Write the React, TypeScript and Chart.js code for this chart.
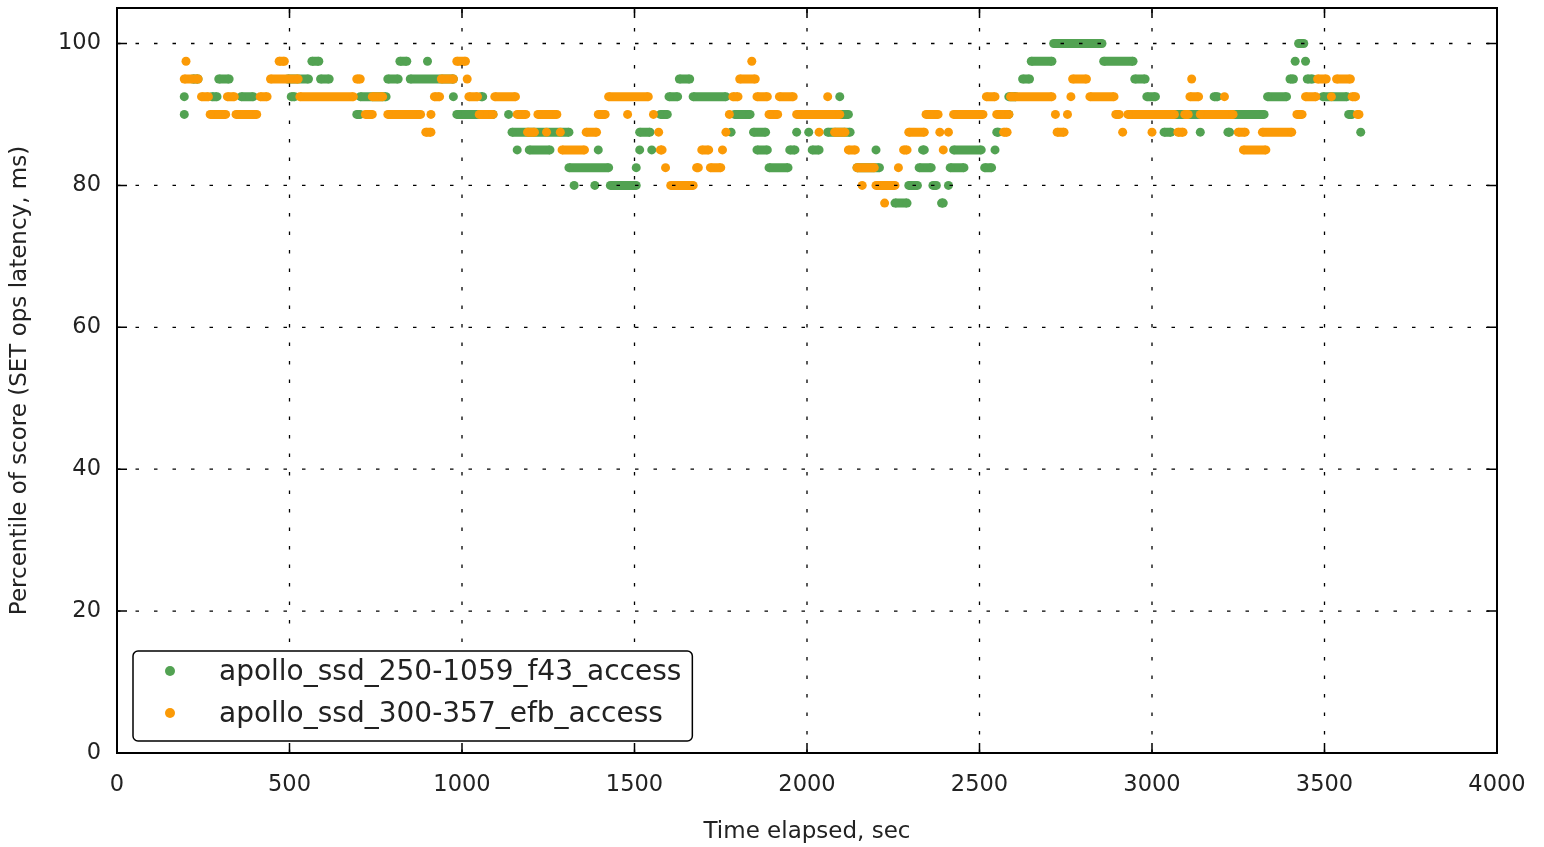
import React, { useEffect, useRef } from 'react';
import { Chart, registerables } from 'chart.js';

Chart.register(...registerables);

type Run = [number, number];

// axis ticks
const xTicks = [0, 500, 1000, 1500, 2000, 2500, 3000, 3500, 4000];
const yTicks = [0, 20, 40, 60, 80, 100];

const seriesNames = ['apollo_ssd_250-1059_f43_access', 'apollo_ssd_300-357_efb_access'];
const greenColor = '#52a252';
const orangeColor = '#fb9a06';

// Green series: runs of consecutive samples [startSec, endSec] at each percentile level
const green100: Run[] = [[2715, 2855], [3425, 3440]];
const green97_5: Run[] = [[565, 585], [820, 840], [900, 900], [2650, 2710], [2860, 2945], [3415, 3415], [3445, 3445]];
const green95: Run[] = [[220, 235], [295, 325], [495, 555], [590, 615], [785, 815], [850, 975], [1630, 1660], [2625, 2645], [2950, 2980], [3400, 3410], [3450, 3465]];
const green92_5: Run[] = [[195, 195], [275, 290], [360, 395], [505, 515], [705, 780], [975, 975], [1055, 1060], [1600, 1625], [1670, 1765], [2095, 2095], [2585, 2605], [2985, 3010], [3180, 3190], [3335, 3390], [3495, 3565]];
const green90: Run[] = [[195, 195], [695, 705], [985, 1090], [1135, 1135], [1575, 1595], [1790, 1835], [2045, 2120], [2570, 2585], [3020, 3325], [3570, 3580]];
const green87_5: Run[] = [[1145, 1310], [1515, 1545], [1780, 1780], [1845, 1880], [1970, 1970], [2005, 2005], [2060, 2125], [2550, 2555], [3035, 3055], [3140, 3140], [3220, 3225], [3605, 3605]];
const green85: Run[] = [[1160, 1160], [1195, 1255], [1395, 1395], [1515, 1515], [1550, 1550], [1855, 1885], [1950, 1965], [2015, 2035], [2200, 2200], [2335, 2340], [2425, 2505], [2545, 2545]];
const green82_5: Run[] = [[1310, 1425], [1505, 1505], [1890, 1945], [2145, 2210], [2325, 2360], [2415, 2455], [2515, 2535]];
const green80: Run[] = [[1325, 1325], [1385, 1385], [1430, 1505], [2295, 2320], [2365, 2375], [2410, 2410]];
const green77_5: Run[] = [[2255, 2290], [2390, 2395]];

// Orange series
const orange97_5: Run[] = [[200, 200], [470, 485], [985, 1010], [1840, 1840]];
const orange95: Run[] = [[195, 235], [445, 525], [695, 705], [940, 975], [1015, 1015], [1805, 1850], [2770, 2810], [3115, 3115], [3480, 3505], [3535, 3575]];
const orange92_5: Run[] = [[245, 265], [320, 340], [415, 435], [530, 685], [740, 770], [920, 935], [1020, 1045], [1095, 1155], [1425, 1540], [1785, 1800], [1855, 1885], [1920, 1960], [2060, 2060], [2520, 2545], [2590, 2710], [2765, 2765], [2820, 2890], [3110, 3135], [3210, 3210], [3445, 3475], [3520, 3520], [3580, 3590]];
const orange90: Run[] = [[270, 315], [345, 405], [720, 740], [785, 880], [910, 910], [1050, 1090], [1160, 1185], [1220, 1275], [1395, 1415], [1480, 1480], [1555, 1555], [1775, 1775], [1890, 1915], [1970, 2095], [2345, 2380], [2425, 2510], [2550, 2585], [2720, 2720], [2755, 2755], [2895, 2905], [2930, 3065], [3095, 3105], [3140, 3235], [3420, 3435], [3595, 3600]];
const orange87_5: Run[] = [[895, 910], [1190, 1210], [1245, 1245], [1285, 1285], [1360, 1390], [1570, 1570], [1765, 1765], [2035, 2035], [2080, 2110], [2295, 2340], [2385, 2385], [2410, 2410], [2570, 2580], [2725, 2745], [2915, 2915], [3000, 3000], [3075, 3090], [3250, 3270], [3320, 3405]];
const orange85: Run[] = [[1290, 1355], [1575, 1580], [1695, 1715], [1755, 1755], [2120, 2140], [2280, 2290], [2395, 2395], [3265, 3330]];
const orange82_5: Run[] = [[1590, 1590], [1680, 1685], [1720, 1750], [2145, 2195], [2265, 2265]];
const orange80: Run[] = [[1605, 1670], [2160, 2160], [2200, 2255]];
const orange77_5: Run[] = [[2225, 2225]];

const greenLevels: [number, Run[]][] = [
  [100, green100], [97.5, green97_5], [95, green95], [92.5, green92_5], [90, green90],
  [87.5, green87_5], [85, green85], [82.5, green82_5], [80, green80], [77.5, green77_5],
];
const orangeLevels: [number, Run[]][] = [
  [97.5, orange97_5], [95, orange95], [92.5, orange92_5], [90, orange90],
  [87.5, orange87_5], [85, orange85], [82.5, orange82_5], [80, orange80], [77.5, orange77_5],
];

function toData(levels: [number, Run[]][]) {
  const out: { x: number; y: number | null }[] = [];
  for (const [y, runs] of levels) {
    for (const [a, b] of runs) {
      out.push({ x: a, y });
      if (b !== a) out.push({ x: b, y });
      out.push({ x: b, y: null });
    }
  }
  return out;
}

const FONT = '"DejaVu Sans", sans-serif';
const TEXT = '#222222';

const overlayPlugin = {
  id: 'mplOverlay',
  afterDatasetsDraw(chart: any) {
    const { ctx, chartArea, scales } = chart;
    const { left, right, top, bottom } = chartArea;
    const xs = scales.x;
    const ys = scales.y;
    ctx.save();
    // dotted grid, drawn over the data like the original
    ctx.strokeStyle = '#000';
    ctx.lineWidth = 1.3;
    ctx.setLineDash([3.5, 15]);
    for (const v of yTicks) {
      const py = ys.getPixelForValue(v);
      if (Math.abs(py - bottom) < 1 || Math.abs(py - top) < 1) continue;
      ctx.beginPath();
      ctx.moveTo(left, py);
      ctx.lineTo(right, py);
      ctx.stroke();
    }
    for (const v of xTicks) {
      const px = xs.getPixelForValue(v);
      if (Math.abs(px - left) < 1 || Math.abs(px - right) < 1) continue;
      ctx.beginPath();
      ctx.moveTo(px, bottom);
      ctx.lineTo(px, top);
      ctx.stroke();
    }
    ctx.setLineDash([]);
    // inward tick marks
    ctx.lineWidth = 1.5;
    const tl = 10;
    for (const v of xTicks) {
      const px = xs.getPixelForValue(v);
      ctx.beginPath();
      ctx.moveTo(px, bottom);
      ctx.lineTo(px, bottom - tl);
      ctx.moveTo(px, top);
      ctx.lineTo(px, top + tl);
      ctx.stroke();
    }
    for (const v of yTicks) {
      const py = ys.getPixelForValue(v);
      ctx.beginPath();
      ctx.moveTo(left, py);
      ctx.lineTo(left + tl, py);
      ctx.moveTo(right, py);
      ctx.lineTo(right - tl, py);
      ctx.stroke();
    }
    // frame
    ctx.lineWidth = 2;
    ctx.strokeRect(left, top, right - left, bottom - top);
    ctx.restore();
  },
  afterDraw(chart: any) {
    const { ctx, chartArea } = chart;
    const { left, bottom } = chartArea;
    ctx.save();
    ctx.font = `28px ${FONT}`;
    const bx = left + 16;
    const by = bottom - 102;
    const textX = bx + 86;
    let maxW = 0;
    for (const n of seriesNames) maxW = Math.max(maxW, ctx.measureText(n).width);
    const bw = textX - bx + maxW + 11;
    const bh = 90;
    ctx.beginPath();
    ctx.roundRect(bx, by, bw, bh, 5);
    ctx.fillStyle = '#fff';
    ctx.fill();
    ctx.lineWidth = 1.5;
    ctx.strokeStyle = '#000';
    ctx.stroke();
    const colors = [greenColor, orangeColor];
    seriesNames.forEach((n, i) => {
      const cy = by + 21 + i * 42;
      ctx.beginPath();
      ctx.arc(bx + 37, cy - 1, 5, 0, Math.PI * 2);
      ctx.fillStyle = colors[i];
      ctx.fill();
      ctx.fillStyle = TEXT;
      ctx.textBaseline = 'middle';
      ctx.textAlign = 'left';
      ctx.fillText(n, textX, cy + 1);
    });
    ctx.restore();
  },
};

export default function App() {
  const ref = useRef<HTMLCanvasElement | null>(null);
  useEffect(() => {
    if (!ref.current) return;
    const mk = (label: string, color: string, data: any[], order: number) => ({
      label,
      data,
      order,
      borderColor: color,
      backgroundColor: color,
      pointBackgroundColor: color,
      pointBorderWidth: 0,
      pointRadius: 4.5,
      pointHoverRadius: 4.5,
      borderWidth: 9,
      borderCapStyle: 'butt' as const,
      spanGaps: false,
      tension: 0,
      showLine: true,
    });
    const chart = new Chart(ref.current, {
      type: 'line',
      data: {
        datasets: [
          mk(seriesNames[0], greenColor, toData(greenLevels), 2),
          mk(seriesNames[1], orangeColor, toData(orangeLevels), 1),
        ],
      },
      options: {
        animation: false,
        responsive: true,
        maintainAspectRatio: false,
        events: [],
        parsing: false as any,
        normalized: false,
        layout: { padding: { top: 8, right: 47, left: 0, bottom: 0 } },
        plugins: { legend: { display: false }, tooltip: { enabled: false }, title: { display: false } },
        scales: {
          x: {
            type: 'linear',
            min: 0,
            max: 4000,
            grid: { display: false, drawTicks: false },
            border: { display: false },
            afterBuildTicks: (s: any) => { s.ticks = xTicks.map((v) => ({ value: v })); },
            afterFit: (s: any) => { s.height = 94; s.paddingLeft = 0; s.paddingRight = 0; },
            ticks: { color: TEXT, font: { family: FONT, size: 22.5 }, padding: 19, maxRotation: 0, autoSkip: false, callback: (v: any) => String(v) },
            title: { display: true, text: 'Time elapsed, sec', color: TEXT, font: { family: FONT, size: 23 }, padding: { top: 0, bottom: 1 } },
          },
          y: {
            type: 'linear',
            min: 0,
            max: 105,
            grid: { display: false, drawTicks: false },
            border: { display: false },
            afterBuildTicks: (s: any) => { s.ticks = yTicks.map((v) => ({ value: v })); },
            afterFit: (s: any) => { s.width = 117; s.paddingTop = 0; s.paddingBottom = 0; },
            ticks: { color: TEXT, font: { family: FONT, size: 22.5 }, padding: 16, autoSkip: false, callback: (v: any) => String(v) },
            title: { display: true, text: 'Percentile of score (SET ops latency, ms)', color: TEXT, font: { family: FONT, size: 23 }, padding: { top: 6, bottom: 0 } },
          },
        },
      },
      plugins: [overlayPlugin],
    });
    return () => chart.destroy();
  }, []);
  return (
    <div style={{ position: 'absolute', left: 0, top: 0, width: 1544, height: 847, background: '#fff' }}>
      <canvas ref={ref} />
    </div>
  );
}
